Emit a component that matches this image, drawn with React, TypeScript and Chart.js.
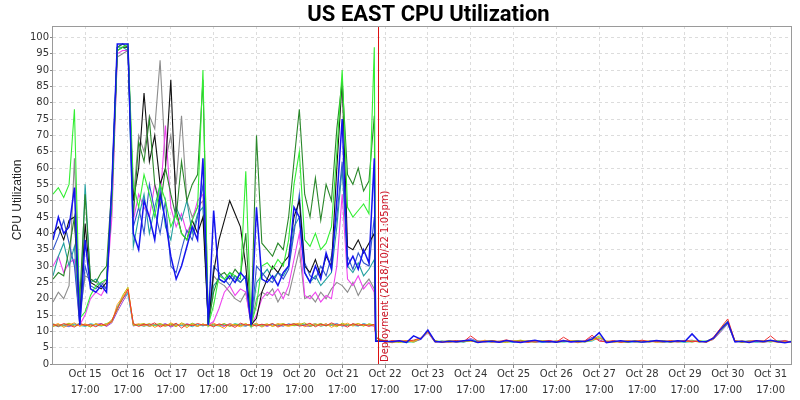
import React, { useEffect, useRef } from "react";
import { Chart, registerables } from "chart.js";

Chart.register(...registerables);

const TITLE = "US EAST CPU Utilization";
const Y_TITLE = "CPU Utilization";
const DEPLOY_LABEL = "Deployment (2018/10/22 1:05pm)";
// hours after Oct 15 17:00
const DEPLOY_HOUR = 164.083;

const TICK_DAYS = [
  "Oct 15", "Oct 16", "Oct 17", "Oct 18", "Oct 19", "Oct 20", "Oct 21", "Oct 22", "Oct 23",
  "Oct 24", "Oct 25", "Oct 26", "Oct 27", "Oct 28", "Oct 29", "Oct 30", "Oct 31",
];
const TICK_TIME = "17:00";
const TICK_HOURS = [0, 24, 48, 72, 96, 120, 144, 168, 192, 216, 240, 264, 288, 312, 336, 360, 384];
const Y_TICKS = [0, 5, 10, 15, 20, 25, 30, 35, 40, 45, 50, 55, 60, 65, 70, 75, 80, 85, 90, 95, 100];

const X_MIN = -18;
const X_MAX = 396;
const Y_MAX = 103.5;

// sampling times (hours after Oct 15 17:00)
const PRE_HOURS = Array.from({ length: 61 }, (_, i) => -18 + 3 * i);
const POST_HOURS = Array.from({ length: 58 }, (_, i) => 168 + 4 * i);
const HIGH_BRIDGE_HOURS = [162.8, 167];
const HIGH_BRIDGE = [7.0, 7.0];
const LOW_BRIDGE_HOURS = [163.2];
const LOW_BRIDGE = [8.0];

// ---- busy hosts, before the deployment ----
const BLUE_PRE = [
  38, 45, 40, 42, 54, 12, 38, 23, 22, 24,
  22, 55, 98, 98, 98, 40, 35, 50, 45, 38,
  52, 44, 33, 26, 30, 36, 42, 38, 63, 12,
  47, 26, 25, 27, 25, 28, 26, 12, 48, 26,
  25, 27, 24, 28, 30, 48, 45, 28, 25, 30,
  26, 34, 29, 50, 75, 30, 33, 29, 35, 31,
  63,
];
const GREEN_PRE = [
  52, 54, 51, 55, 78, 14, 16, 21, 24, 25,
  26, 50, 96, 97, 98, 55, 48, 58, 52, 45,
  55, 50, 42, 46, 40, 38, 44, 48, 90, 12,
  18, 27, 26, 28, 27, 26, 59, 12, 18, 30,
  31, 29, 32, 30, 38, 55, 65, 38, 36, 40,
  35, 37, 42, 65, 90, 48, 45, 47, 49, 46,
  97,
];
const DARK_GREEN_PRE = [
  26, 28, 27, 35, 45, 20, 52, 26, 25, 28,
  30, 55, 97, 98, 97, 45, 68, 62, 75, 55,
  48, 60, 52, 45, 62, 50, 55, 58, 87, 12,
  22, 27, 28, 26, 29, 27, 40, 12, 70, 37,
  35, 33, 37, 35, 45, 62, 78, 52, 45, 57,
  44, 55, 50, 72, 87, 58, 55, 60, 53, 56,
  76,
];
const BLACK_PRE = [
  40, 42, 38, 44, 45, 13, 43, 25, 24, 23,
  25, 52, 96, 97, 97, 50, 60, 83, 62, 70,
  55, 60, 87, 47, 40, 38, 44, 40, 45, 12,
  28, 38, 44, 50, 46, 42, 30, 12, 14, 22,
  26, 30, 28, 31, 33, 45, 50, 30, 28, 32,
  27, 33, 30, 60, 87, 36, 35, 38, 34, 37,
  40,
];
const BLUE2_PRE = [
  35, 39, 44, 37, 30, 12, 30, 24, 23, 25,
  23, 53, 97, 98, 97, 42, 48, 40, 55, 47,
  40, 50, 30, 28, 35, 41, 38, 45, 55, 12,
  30, 28, 26, 24, 27, 25, 27, 12, 30, 28,
  26, 25, 28, 26, 29, 40, 52, 31, 27, 26,
  30, 27, 33, 45, 62, 33, 29, 34, 31, 30,
  45,
];
const TEAL_PRE = [
  27, 33, 37, 30, 36, 12, 55, 25, 26, 24,
  23, 54, 97, 97, 96, 36, 45, 52, 40, 48,
  55, 42, 38, 48, 44, 50, 40, 46, 48, 12,
  24, 26, 25, 28, 26, 25, 27, 12, 25, 27,
  29, 26, 28, 27, 30, 42, 45, 28, 25, 27,
  24, 26, 28, 42, 60, 30, 28, 31, 27, 29,
  32,
];
const MAGENTA_PRE = [
  30, 33, 28, 31, 32, 12, 15, 20, 22, 21,
  24, 45, 95, 96, 96, 44, 52, 48, 45, 55,
  50, 73, 48, 42, 46, 40, 44, 50, 52, 12,
  13, 17, 22, 24, 21, 23, 22, 12, 15, 20,
  22, 21, 23, 20, 24, 32, 40, 21, 20, 22,
  19, 21, 20, 30, 52, 26, 24, 27, 23, 25,
  22,
];
const GRAY_PRE = [
  19, 22, 20, 24, 63, 15, 27, 26, 25, 24,
  26, 48, 94, 95, 96, 50, 70, 65, 76, 72,
  93, 62, 70, 55, 76, 50, 45, 48, 50, 12,
  27, 25, 24, 22, 20, 19, 22, 12, 20, 22,
  21, 23, 19, 22, 21, 28, 35, 20, 21, 19,
  22, 20, 23, 25, 24, 22, 25, 21, 24, 26,
  23,
];

// ---- quiet hosts, before the deployment ----
const RED_PRE = [
  12.2, 11.5, 12.4, 11.9, 11.3, 12.5, 11.8, 12.1, 11.4, 12.3,
  11.7, 13.2, 17.0, 19.8, 22.8, 12.4, 11.5, 12.2, 11.9, 12.6,
  11.3, 12.1, 11.6, 12.5, 11.0, 12.2, 11.7, 12.4, 11.9, 12.0,
  11.4, 12.3, 11.8, 12.0, 11.2, 12.5, 11.9, 12.1, 11.6, 12.2,
  11.8, 12.4, 11.3, 12.1, 12.0, 12.3, 11.6, 11.9, 12.5, 11.4,
  12.2, 11.7, 12.6, 11.9, 12.0, 11.3, 12.4, 11.8, 12.1, 11.5,
  12.2,
];
const ORANGE_PRE = [
  11.8, 12.4, 11.2, 12.0, 12.6, 11.5, 12.3, 11.6, 12.2, 11.9,
  12.3, 12.8, 18.2, 20.5, 23.0, 12.0, 12.3, 11.6, 12.4, 11.2,
  12.0, 11.5, 12.6, 11.8, 12.3, 11.1, 12.4, 11.6, 12.2, 11.8,
  12.5, 11.7, 10.9, 12.3, 11.9, 11.4, 12.2, 11.8, 12.5, 11.3,
  12.1, 11.6, 12.4, 11.9, 11.5, 12.2, 12.5, 11.4, 12.0, 12.3,
  11.6, 12.4, 11.2, 12.1, 11.8, 12.5, 11.6, 12.3, 11.9, 12.0,
  11.7,
];
const OLIVE_PRE = [
  11.5, 12.0, 11.9, 12.5, 11.6, 11.9, 12.2, 11.3, 12.4, 11.7,
  12.0, 13.6, 16.5, 21.0, 23.5, 11.8, 12.1, 12.4, 11.5, 12.0,
  12.4, 11.8, 12.2, 11.4, 12.6, 11.9, 12.1, 11.5, 12.3, 11.6,
  12.0, 11.8, 12.4, 11.5, 12.2, 11.7, 12.4, 11.4, 12.0, 11.9,
  12.3, 11.5, 12.0, 12.4, 11.7, 11.8, 12.1, 12.6, 11.5, 12.0,
  12.3, 11.8, 12.1, 11.4, 12.5, 11.9, 12.0, 12.4, 11.6, 12.3,
  11.9,
];
const CYAN_PRE = [
  12.0, 11.4, 12.1, 11.6, 12.3, 11.8, 11.5, 12.4, 11.9, 11.6,
  12.1, 12.9, 17.5, 20.2, 21.5, 11.9, 12.0, 11.5, 12.1, 11.8,
  12.2, 11.6, 11.9, 12.3, 11.7, 12.0, 11.4, 12.2, 11.6, 12.3,
  11.9, 11.6, 12.2, 11.7, 12.4, 11.8, 11.6, 12.3, 11.9, 11.5,
  12.0, 11.9, 12.2, 11.6, 12.3, 11.7, 11.9, 12.2, 11.8, 12.4,
  11.5, 12.0, 11.9, 12.3, 11.6, 12.1, 11.8, 11.6, 12.4, 11.9,
  12.1,
];
const PURPLE_PRE = [
  11.6, 12.1, 11.8, 11.4, 12.2, 11.9, 12.0, 11.5, 12.1, 12.4,
  11.5, 12.6, 16.0, 19.0, 21.8, 11.6, 12.2, 11.9, 11.6, 12.1,
  11.8, 12.4, 11.3, 12.0, 11.8, 12.3, 11.9, 11.6, 12.0, 11.7,
  12.2, 11.9, 11.5, 12.4, 11.7, 12.0, 11.6, 12.2, 11.9, 12.1,
  11.5, 12.2, 11.8, 11.6, 12.3, 11.9, 12.2, 11.7, 11.5, 12.1,
  11.9, 12.2, 11.8, 12.4, 11.6, 11.9, 12.1, 11.7, 12.3, 11.8,
  11.6,
];
const LIME_PRE = [
  12.3, 11.8, 11.6, 12.2, 11.9, 12.4, 11.6, 11.9, 12.2, 11.8,
  12.4, 13.0, 17.2, 20.0, 22.0, 12.3, 11.8, 12.0, 12.3, 11.7,
  12.1, 11.9, 12.3, 11.9, 12.0, 11.6, 12.5, 11.9, 11.8, 12.2,
  11.7, 12.0, 12.2, 11.6, 12.1, 12.2, 11.8, 12.0, 12.3, 11.8,
  11.9, 12.3, 11.6, 12.2, 11.8, 12.4, 11.8, 12.1, 11.9, 11.7,
  12.4, 11.6, 12.3, 11.8, 12.2, 11.8, 12.2, 11.9, 11.7, 12.2,
  12.0,
];

// ---- after the deployment ----
const POST_A = [
  7.0, 6.8, 7.1, 6.6, 8.6, 7.6, 10.4, 6.9, 6.7, 7.0,
  6.8, 7.1, 7.3, 6.6, 6.9, 7.0, 6.7, 7.2, 6.8, 6.6,
  7.0, 7.3, 6.8, 6.9, 6.7, 7.1, 6.8, 7.0, 6.9, 7.6,
  9.6, 6.5, 6.9, 7.1, 6.8, 7.0, 6.7, 6.9, 7.2, 7.0,
  6.8, 7.1, 6.9, 9.2, 6.9, 6.8, 7.9, 10.6, 12.8, 6.8,
  7.0, 6.6, 7.1, 6.9, 7.3, 6.8, 6.5, 6.9,
];
const POST_B = [
  6.6, 7.2, 6.9, 7.0, 7.3, 8.0, 10.0, 7.1, 6.6, 6.9,
  7.2, 6.8, 8.6, 7.0, 6.7, 7.1, 6.9, 7.4, 6.8, 7.0,
  6.6, 7.1, 6.9, 7.2, 6.7, 8.2, 6.9, 6.8, 7.1, 8.8,
  7.0, 6.8, 7.2, 6.6, 7.0, 6.9, 7.3, 6.8, 7.0, 6.7,
  7.1, 6.9, 7.2, 6.8, 7.0, 6.7, 8.2, 11.0, 13.8, 7.1,
  6.8, 7.0, 7.2, 6.9, 8.6, 6.8, 7.1, 6.7,
];
const POST_C = [
  6.9, 6.5, 7.0, 7.2, 6.8, 7.9, 9.8, 6.7, 7.0, 6.6,
  6.9, 7.2, 7.0, 6.8, 7.3, 6.6, 7.0, 6.8, 7.1, 6.7,
  7.2, 6.8, 7.0, 6.6, 7.1, 6.9, 7.2, 6.5, 7.0, 7.3,
  7.9, 7.1, 6.6, 6.9, 7.2, 6.7, 7.0, 7.1, 6.6, 6.9,
  7.2, 6.7, 7.0, 6.9, 7.1, 6.6, 7.6, 10.2, 12.5, 6.9,
  7.1, 6.7, 6.9, 7.2, 7.0, 6.6, 7.0, 6.8,
];
const POST_D = [
  6.7, 7.0, 6.6, 6.9, 7.1, 7.7, 9.9, 7.0, 6.8, 7.2,
  6.7, 6.9, 7.1, 6.6, 7.0, 7.2, 6.8, 6.6, 7.0, 7.3,
  6.8, 6.7, 7.1, 7.0, 6.6, 6.9, 7.1, 7.2, 6.7, 7.4,
  8.6, 6.7, 7.0, 6.8, 6.6, 7.2, 6.9, 6.7, 7.0, 7.2,
  6.6, 7.0, 6.8, 7.1, 6.7, 7.0, 7.8, 10.4, 12.6, 7.2,
  6.6, 6.9, 7.0, 6.7, 7.1, 7.0, 6.7, 6.9,
];
const POST_E = [
  7.1, 6.7, 6.9, 6.5, 7.0, 7.8, 10.1, 6.8, 7.1, 6.7,
  7.0, 6.6, 7.4, 7.1, 6.8, 6.7, 7.0, 6.9, 6.6, 7.1,
  6.9, 7.0, 6.6, 6.8, 7.0, 6.7, 6.9, 7.1, 6.8, 7.0,
  8.1, 6.9, 6.7, 7.0, 6.6, 6.8, 7.1, 6.9, 6.8, 6.6,
  7.0, 6.8, 6.6, 7.0, 6.9, 7.1, 7.7, 10.0, 12.3, 7.0,
  6.9, 7.1, 6.6, 7.0, 6.8, 7.1, 6.6, 7.0,
];
const POST_F = [
  6.8, 6.9, 7.2, 6.8, 6.9, 7.5, 9.6, 6.6, 6.9, 7.1,
  6.6, 7.0, 7.8, 6.9, 7.1, 6.8, 6.6, 7.0, 7.2, 6.8,
  7.1, 6.6, 6.8, 7.1, 6.9, 7.3, 6.6, 6.9, 7.0, 8.2,
  7.4, 6.6, 6.8, 7.0, 6.9, 7.1, 6.7, 7.0, 6.9, 7.1,
  6.9, 6.7, 7.1, 7.3, 6.8, 6.9, 7.5, 9.8, 12.2, 6.7,
  7.0, 6.8, 6.8, 6.6, 7.0, 6.9, 7.2, 6.6,
];
const POST_G = [
  7.0, 6.7, 6.8, 7.1, 6.6, 7.6, 9.7, 7.2, 6.7, 6.9,
  7.1, 6.8, 7.0, 6.7, 6.9, 7.2, 6.7, 6.9, 6.8, 7.2,
  6.7, 7.0, 7.1, 6.8, 7.0, 6.8, 7.0, 6.7, 6.9, 7.8,
  8.0, 7.0, 6.9, 6.7, 7.1, 6.8, 6.6, 7.0, 7.1, 6.8,
  6.8, 7.1, 6.9, 6.7, 7.2, 6.8, 7.9, 10.8, 13.2, 6.9,
  6.7, 7.0, 6.9, 7.1, 6.7, 7.2, 6.8, 7.0,
];
const NONE: number[] = [];

type Pt = { x: number; y: number };
function points(pre: number[], bridgeHours: number[], bridge: number[], post: number[]): Pt[] {
  const out: Pt[] = [];
  pre.forEach((v, i) => out.push({ x: PRE_HOURS[i], y: v }));
  bridge.forEach((v, i) => out.push({ x: bridgeHours[i], y: v }));
  post.forEach((v, i) => out.push({ x: POST_HOURS[i], y: v }));
  return out;
}

// index 0 is drawn on top
const SERIES = [
  { label: "host 1", color: "#1414ee", width: 1.5, data: points(BLUE_PRE, HIGH_BRIDGE_HOURS, HIGH_BRIDGE, POST_A) },
  { label: "host 2", color: "#33ee33", width: 1.1, data: points(GREEN_PRE, HIGH_BRIDGE_HOURS, HIGH_BRIDGE, NONE) },
  { label: "host 3", color: "#2a872a", width: 1.1, data: points(DARK_GREEN_PRE, HIGH_BRIDGE_HOURS, HIGH_BRIDGE, NONE) },
  { label: "host 4", color: "#111111", width: 1.1, data: points(BLACK_PRE, HIGH_BRIDGE_HOURS, HIGH_BRIDGE, NONE) },
  { label: "host 5", color: "#3358cc", width: 1.1, data: points(BLUE2_PRE, HIGH_BRIDGE_HOURS, HIGH_BRIDGE, NONE) },
  { label: "host 6", color: "#22a0a0", width: 1.1, data: points(TEAL_PRE, HIGH_BRIDGE_HOURS, HIGH_BRIDGE, NONE) },
  { label: "host 7", color: "#ee44ee", width: 1.1, data: points(MAGENTA_PRE, HIGH_BRIDGE_HOURS, HIGH_BRIDGE, NONE) },
  { label: "host 8", color: "#8c8c8c", width: 1.1, data: points(GRAY_PRE, HIGH_BRIDGE_HOURS, HIGH_BRIDGE, NONE) },
  { label: "host 9", color: "#ee3333", width: 1, data: points(RED_PRE, LOW_BRIDGE_HOURS, LOW_BRIDGE, POST_B) },
  { label: "host 10", color: "#ff9a1a", width: 1, data: points(ORANGE_PRE, LOW_BRIDGE_HOURS, LOW_BRIDGE, POST_C) },
  { label: "host 11", color: "#b8b800", width: 1, data: points(OLIVE_PRE, LOW_BRIDGE_HOURS, LOW_BRIDGE, POST_D) },
  { label: "host 12", color: "#33cccc", width: 1, data: points(CYAN_PRE, LOW_BRIDGE_HOURS, LOW_BRIDGE, POST_E) },
  { label: "host 13", color: "#9944dd", width: 1, data: points(PURPLE_PRE, LOW_BRIDGE_HOURS, LOW_BRIDGE, POST_F) },
  { label: "host 14", color: "#55dd55", width: 1, data: points(LIME_PRE, LOW_BRIDGE_HOURS, LOW_BRIDGE, POST_G) },
];

const overlayPlugin = {
  id: "overlay",
  afterDatasetsDraw(chart: any) {
    const { ctx, chartArea } = chart;
    const x = Math.round(chart.scales.x.getPixelForValue(DEPLOY_HOUR)) + 0.5;
    ctx.save();
    ctx.strokeStyle = "#dd1111";
    ctx.lineWidth = 1;
    ctx.beginPath();
    ctx.moveTo(x, chartArea.top);
    ctx.lineTo(x, chartArea.bottom);
    ctx.stroke();
    ctx.translate(x + 1.5, chartArea.bottom - 2);
    ctx.rotate(-Math.PI / 2);
    ctx.font = '10px "DejaVu Sans"';
    ctx.fillStyle = "#cc1122";
    ctx.textAlign = "left";
    ctx.textBaseline = "top";
    ctx.fillText(DEPLOY_LABEL, 0, 0);
    ctx.restore();
  },
  afterDraw(chart: any) {
    const { ctx, chartArea } = chart;
    ctx.save();
    ctx.strokeStyle = "#9a9a9a";
    ctx.lineWidth = 1;
    ctx.strokeRect(chartArea.left - 0.5, chartArea.top + 0.5, chartArea.right - chartArea.left, chartArea.bottom - chartArea.top);
    ctx.fillStyle = "#000";
    ctx.font = 'bold 22px Roboto';
    ctx.textAlign = "center";
    ctx.textBaseline = "alphabetic";
    ctx.fillText(TITLE, (chartArea.left + chartArea.right) / 2 + 6, 21);
    ctx.translate(18, 200);
    ctx.rotate(-Math.PI / 2);
    ctx.font = '12px "Liberation Sans"';
    ctx.fillStyle = "#222";
    ctx.textBaseline = "middle";
    ctx.fillText(Y_TITLE, 0, 0);
    ctx.restore();
  },
};

export default function App() {
  const ref = useRef<HTMLCanvasElement | null>(null);
  useEffect(() => {
    document.body.style.margin = "0";
    const canvas = ref.current;
    if (!canvas) return;
    const chart = new Chart(canvas, {
      type: "line",
      data: {
        datasets: SERIES.map((s) => ({
          label: s.label,
          data: s.data,
          borderColor: s.color,
          backgroundColor: s.color,
          borderWidth: s.width,
          pointRadius: 0,
          tension: 0,
          fill: false,
        })),
      },
      options: {
        responsive: false,
        maintainAspectRatio: false,
        animation: false,
        events: [],
        layout: { padding: { top: 26, right: 8, left: 0, bottom: 0 } },
        plugins: {
          legend: { display: false },
          tooltip: { enabled: false },
          title: { display: false },
        },
        scales: {
          x: {
            type: "linear",
            min: X_MIN,
            max: X_MAX,
            afterBuildTicks: (s: any) => {
              s.ticks = TICK_HOURS.map((v) => ({ value: v }));
            },
            afterFit: (s: any) => {
              s.height = 36;
            },
            ticks: {
              autoSkip: false,
              maxRotation: 0,
              minRotation: 0,
              padding: -2,
              color: "#333",
              font: { family: "DejaVu Sans", size: 10, lineHeight: 1.65 },
              callback: (_v: any, i: number) => [TICK_DAYS[i], TICK_TIME],
            },
            grid: { color: "#dcdcdc", tickLength: 4, tickColor: "#888", tickBorderDash: [] },
            border: { display: false, dash: [3, 3] },
          },
          y: {
            min: 0,
            max: Y_MAX,
            afterBuildTicks: (s: any) => {
              s.ticks = Y_TICKS.map((v) => ({ value: v }));
            },
            afterFit: (s: any) => {
              s.width = 53;
            },
            ticks: {
              padding: 1,
              color: "#333",
              font: { family: "DejaVu Sans", size: 10 },
              callback: (v: any) => String(v),
            },
            grid: { color: "#dcdcdc", tickLength: 3, tickColor: "#888", tickBorderDash: [] },
            border: { display: false, dash: [3, 3] },
          },
        },
      },
      plugins: [overlayPlugin],
    } as any);
    return () => chart.destroy();
  }, []);
  return (
    <div style={{ width: 800, height: 400 }}>
      <canvas ref={ref} width={800} height={400} style={{ display: "block" }} />
    </div>
  );
}
